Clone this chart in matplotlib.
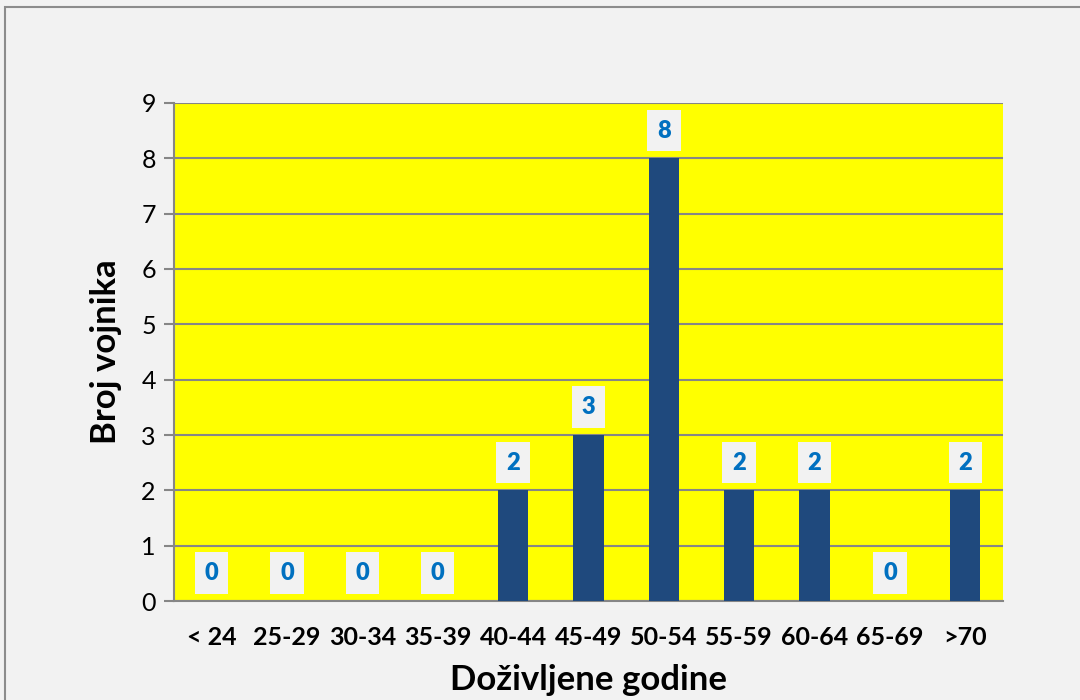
import matplotlib
matplotlib.use("Agg")
import matplotlib.pyplot as plt
from matplotlib.patches import Rectangle
import numpy as np

plt.rcParams["font.family"] = ["Lato", "DejaVu Sans"]

age_groups = ["< 24", "25-29", "30-34", "35-39", "40-44", "45-49",
              "50-54", "55-59", "60-64", "65-69", ">70"]
soldiers = [0, 0, 0, 0, 2, 3, 8, 2, 2, 0, 2]

BG = "#f2f2f2"
fig = plt.figure(figsize=(10.8, 7), dpi=100, facecolor=BG)
# outer chart border (left and top visible)
fig.patches.append(Rectangle((5 / 1080, -0.05), 1.2, 1 - 7 / 700 + 0.05,
                             transform=fig.transFigure, fill=False,
                             edgecolor="#8c8c8c", linewidth=1.5, clip_on=False))

ax = fig.add_axes([0.161, 0.1414, 0.7677, 0.7115])
ax.set_facecolor("#ffff00")

x = np.arange(len(age_groups))
bars = ax.bar(x, soldiers, width=0.4, color="#1f497d", zorder=3)

for xi, v in zip(x, soldiers):
    ax.annotate(str(v), (xi, v), xytext=(0, 20), textcoords="offset points",
                ha="center", va="center", fontsize=17, fontweight="heavy",
                color="#0070c0", zorder=4,
                bbox=dict(boxstyle="square,pad=0.42", facecolor=BG, edgecolor="none"))

ax.set_xlim(-0.5, len(age_groups) - 0.5)
ax.set_ylim(0, 9)
ax.set_yticks(range(0, 10))
ax.yaxis.grid(True, color="#868686", linewidth=1.5, zorder=1)
ax.set_axisbelow(True)

ax.set_xticks(x)
ax.set_xticklabels(age_groups, fontsize=18, fontweight="bold")
ax.tick_params(axis="x", length=0, pad=18)
ax.tick_params(axis="y", length=7, width=1.5, color="#868686", labelsize=18, pad=6)

for side in ["top", "right"]:
    ax.spines[side].set_visible(False)
for side in ["left", "bottom"]:
    ax.spines[side].set_color("#868686")
    ax.spines[side].set_linewidth(1.5)

ax.set_xlabel("Doživljene godine", fontsize=25, fontweight="bold", labelpad=11)
ax.set_ylabel("Broj vojnika", fontsize=25, fontweight="bold", labelpad=14)

fig.savefig("out.png", dpi=100, facecolor=BG)
